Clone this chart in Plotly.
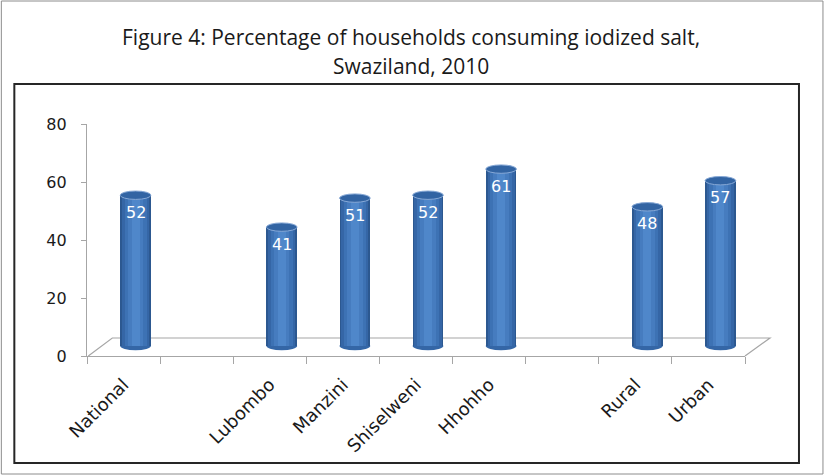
import plotly.graph_objects as go

# Survey results: share of households consuming iodized salt (%)
categories = ["National", "", "Lubombo", "Manzini", "Shiselweni", "Hhohho", "", "Rural", "Urban"]
values = [52, None, 41, 51, 52, 61, None, 48, 57]
y_ticks = [0, 20, 40, 60, 80]

title_lines = ["Figure 4: Percentage of households consuming iodized salt,", "Swaziland, 2010"]

W, H = 824, 475
# plot-area pixel frame
PX_L, PX_R = 86.7, 745.0
PX_T, PX_B = 124.0, 356.0
Y_MAX = 80.0
px_per_unit = (PX_B - PX_T) / Y_MAX


def xp(px):
    return (px - PX_L) / (PX_R - PX_L)


def yp(py):
    return (PX_B - py) / (PX_B - PX_T)


# pseudo-3D depth: cylinders sit on the middle of the floor
depth_dy = 10.0 / px_per_unit                 # value units
depth_dx = 12.0 / ((PX_R - PX_L) / len(categories))  # category units

cyl_w = 0.42
layers = [
    (0.42, "#2c5890"),
    (0.37, "#3566a6"),
    (0.30, "#3d72b4"),
    (0.21, "#467cbf"),
    (0.11, "#4f87ca"),
]

idx = [i for i, v in enumerate(values) if v is not None]
vals = [values[i] for i in idx]

fig = go.Figure()
# carrier for the visible value axis
fig.add_trace(go.Scatter(x=[None], y=[None], yaxis="y", mode="markers",
                         hoverinfo="skip", showlegend=False))
for w, c in layers:
    fig.add_trace(go.Bar(
        x=idx, y=vals, width=w, offset=depth_dx - w / 2,
        marker=dict(color=c, line=dict(width=0)),
        yaxis="y2", hoverinfo="skip", showlegend=False,
    ))

shapes = []
ell_h = 4.2 / px_per_unit
for i, v in zip(idx, vals):
    cx = i + depth_dx
    # rounded bottom of the cylinder
    shapes.append(dict(type="circle", xref="x", yref="y2", layer="below",
                       x0=cx - cyl_w / 2, x1=cx + cyl_w / 2, y0=-ell_h, y1=ell_h,
                       fillcolor="#3466a6", line=dict(width=0)))
    # top cap
    shapes.append(dict(type="circle", xref="x", yref="y2", layer="above",
                       x0=cx - cyl_w / 2, x1=cx + cyl_w / 2, y0=v - ell_h, y1=v + ell_h,
                       fillcolor="#3264a3", line=dict(color="#86a8d6", width=1)))

# floor of the 3D box
shapes.append(dict(type="path", xref="paper", yref="paper", layer="below",
                   path=f"M {xp(88)} {yp(356)} L {xp(112)} {yp(338)} L {xp(770)} {yp(338)} L {xp(745)} {yp(356)}",
                   line=dict(color="#a6a6a6", width=1.2)))
# chart frame and outer page border
shapes.append(dict(type="rect", xref="paper", yref="paper", layer="below",
                   x0=xp(14), x1=xp(799), y0=yp(463), y1=yp(84),
                   line=dict(color="#262626", width=2)))
shapes.append(dict(type="rect", xref="paper", yref="paper", layer="below",
                   x0=xp(1), x1=xp(823), y0=yp(474), y1=yp(1),
                   line=dict(color="#8c8c8c", width=1)))

annotations = []
for i, v in zip(idx, vals):
    annotations.append(dict(x=i + depth_dx, y=v, xref="x", yref="y2", yshift=-17,
                            text=str(v), showarrow=False,
                            font=dict(family="DejaVu Sans", size=16, color="white")))
for line, py in zip(title_lines, [37, 66]):
    annotations.append(dict(x=xp(411), y=yp(py), xref="paper", yref="paper",
                            text=line, showarrow=False, xanchor="center", yanchor="middle",
                            font=dict(family="Open Sans", size=21, color="#1a1a1a")))

label_idx = [i for i, c in enumerate(categories) if c]
fig.update_layout(
    width=W, height=H,
    margin=dict(l=PX_L, r=W - PX_R, t=PX_T, b=H - PX_B, pad=0),
    paper_bgcolor="white", plot_bgcolor="white",
    barmode="overlay", bargap=0,
    shapes=shapes, annotations=annotations,
    xaxis=dict(
        range=[-0.5, len(categories) - 0.5], showgrid=False, zeroline=False,
        showline=True, linecolor="#a6a6a6", linewidth=1.2,
        tickmode="array", tickvals=label_idx,
        ticktext=[categories[i] for i in label_idx],
        ticks="", tickangle=-45, ticklabelstandoff=10,
        tickfont=dict(family="DejaVu Sans", size=18, color="#1a1a1a"),
        minor=dict(tickmode="array", tickvals=[i - 0.5 for i in range(len(categories) + 1)],
                   ticks="outside", ticklen=7, tickcolor="#a6a6a6", tickwidth=1.2, showgrid=False),
    ),
    yaxis=dict(
        range=[0, Y_MAX], tickvals=y_ticks, showgrid=False, zeroline=False,
        showline=True, linecolor="#a6a6a6", linewidth=1.2,
        ticks="outside", ticklen=5, tickcolor="#a6a6a6", tickwidth=1.2,
        ticklabelstandoff=11,
        tickfont=dict(family="DejaVu Sans", size=16, color="#1a1a1a"),
    ),
    yaxis2=dict(range=[-depth_dy, Y_MAX - depth_dy], overlaying="y", visible=False),
)

fig.write_html("out.html")
